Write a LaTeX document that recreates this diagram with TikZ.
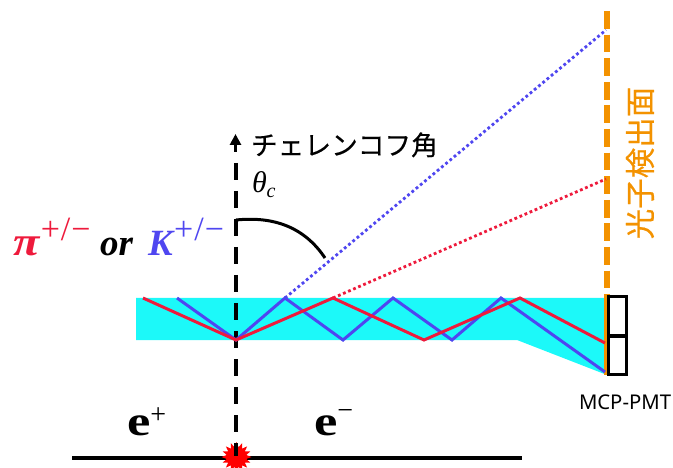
\documentclass[tikz,border=0pt]{standalone}
\usepackage{fontspec}
\newfontfamily\jpfont[FakeBold=0.5]{Noto Sans CJK JP}
\newfontfamily\uifont{Noto Sans}
\newfontfamily\mfont{Liberation Serif}
\usetikzlibrary{shapes.geometric,arrows.meta}
\definecolor{radcyan}{HTML}{1CF9F9}
\definecolor{pired}{HTML}{EE1A3C}
\definecolor{kblue}{HTML}{4F46F0}
\definecolor{detorange}{HTML}{F39200}
\newcommand{\fsz}[1]{\fontsize{#1}{#1}\selectfont}
\newcommand{\supmark}{\raisebox{14pt}{\mfont\mdseries\fsz{34}\kern1.5pt +\kern1pt/\kern1pt−}}
\tikzset{
  x=1pt,y=-1pt,
  zig/.style={line width=3pt,line join=miter},
  cone/.style={line width=2.8pt,dash pattern=on 2.8pt off 2.7pt},
  track/.style={line width=4pt,dash pattern=on 17pt off 11pt},
  lbl/.style={inner sep=0pt,outer sep=0pt,anchor=base west},
  bigit/.style={lbl,font=\mfont\fsz{37}\bfseries\itshape},
  bige/.style={lbl,font=\mfont\fsz{42}\bfseries},
}
\begin{document}
\begin{tikzpicture}
\path[use as bounding box] (0,0) rectangle (673,468);
% radiator
\fill[radcyan] (136,298) -- (607,298) -- (607,375) -- (517,340) -- (136,340) -- cycle;
% detector plane
\coordinate (dT) at (607,11);
\coordinate (dM) at (607,296);
\coordinate (dB) at (607,375);
\draw[detorange,line width=6pt,dash pattern=on 17.8pt off 5.8pt] (dT) -- (dM);
\draw[detorange,line width=6pt] (dM) -- (dB);
% Cherenkov photons
\coordinate (b1) at (285,298);
\coordinate (bH) at (606,30);
\coordinate (r1) at (333,298);
\coordinate (rH) at (606,179);
\draw[kblue,cone] (b1) -- (bH);
\draw[pired,cone] (r1) -- (rH);
% beam line
\coordinate (bL) at (72,458);
\coordinate (bR) at (522,458);
\draw[black,line width=3.4pt] (bL) -- (bR);
\node[star,star points=16,star point ratio=1.5,fill=red,draw=none,minimum size=30pt,inner sep=0pt] (ip) at (236.5,457) {};
% track
\coordinate (tTop) at (235.5,163);
\coordinate (tBot) at (235.5,456);
\coordinate (aS) at (235.5,152);
\coordinate (aE) at (235.5,134);
\draw[black,track] (tTop) -- (tBot);
\draw[black,line width=3.6pt,-{Triangle[length=11pt,width=11pt]}] (aS) -- (aE);
% zigzags
\coordinate (o) at (236,340);
\draw[kblue,zig] (177,298) -- (o) -- (b1) -- (343,340) -- (393,298) -- (452,340) -- (501,298) -- (605,372);
\draw[pired,zig] (143,298) -- (o) -- (r1) -- (424,340) -- (520,298) -- (605,343);
% angle arc
\coordinate (a0) at (236,220);
\coordinate (a1) at (325,258);
\draw[black,line width=3pt] (a0) .. controls (275,216) and (305,228) .. (a1);
% PMT
\node[draw=black,line width=3pt,fill=white,minimum width=18.5pt,minimum height=38pt,inner sep=0pt,outer sep=0pt] (pmtA) at (617.5,316) {};
\node[draw=black,line width=3pt,fill=white,minimum width=18.5pt,minimum height=38pt,inner sep=0pt,outer sep=0pt] (pmtB) at (617.5,355) {};
% labels
\node[lbl,font=\jpfont\fsz{26.7}] (ch) at (251,155) {チェレンコフ角};
\node[lbl,font=\mfont\fsz{30}\itshape] (th) at (252,193) {θ\raisebox{-5pt}{\fsz{20}c}};
\node[bigit,text=pired] (piL) at (13,255) {\scalebox{1.3}[1.1]{π}{\upshape\supmark}};
\node[bigit] (orL) at (100,255) {or};
\node[bigit,text=kblue] (kL) at (148,255) {K{\upshape\supmark}};
\node[bige] (ep) at (127,435) {\scalebox{1.25}[1]{e}\raisebox{12pt}{\mdseries\fsz{28}+}};
\node[bige] (em) at (314,435) {\scalebox{1.25}[1]{e}\raisebox{16pt}{\mdseries\fsz{28}−}};
\node[lbl,font=\uifont\fsz{20.3}] (mcp) at (579,409) {MCP-PMT};
\node[rotate=90,inner sep=0pt,text=detorange,font=\jpfont\fsz{30.5}] (det) at (640,163) {光子検出面};
\end{tikzpicture}
\end{document}
